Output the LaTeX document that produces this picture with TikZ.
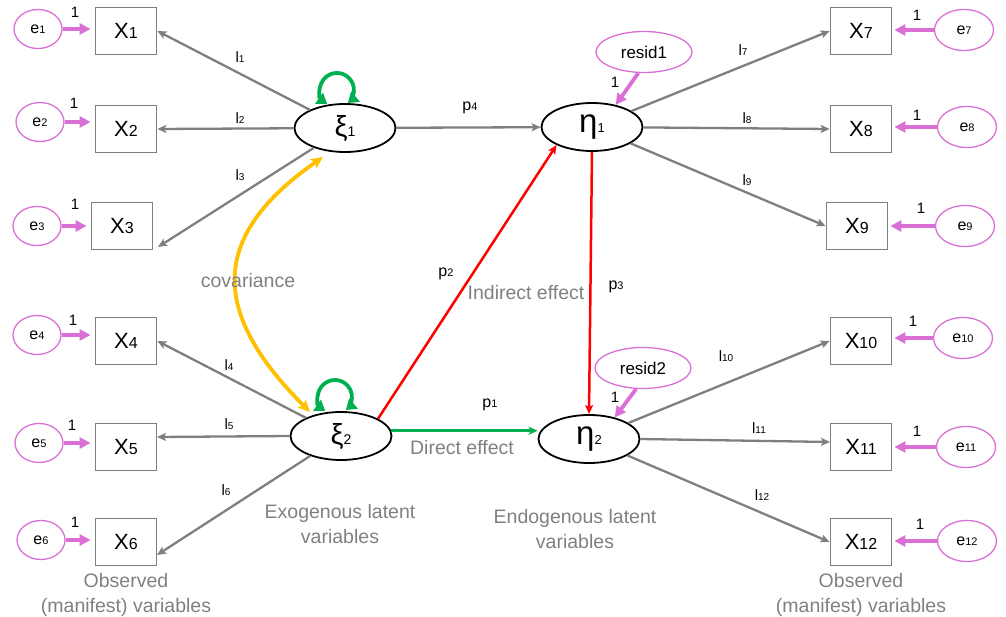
\documentclass[tikz,border=0pt]{standalone}
\usepackage{fontspec}
\setmainfont{Liberation Sans}
\usetikzlibrary{arrows.meta,shapes.geometric}

\definecolor{loadgray}{RGB}{127,127,127}
\definecolor{notegray}{RGB}{128,128,128}
\definecolor{errpink}{RGB}{218,112,214}
\definecolor{pathgreen}{RGB}{0,176,80}
\definecolor{covgold}{RGB}{255,192,0}

\newcommand{\fs}[1]{\fontsize{#1}{#1}\selectfont}

\tikzset{
  obsbox/.style={draw=loadgray,line width=1.8pt,minimum width=61pt,minimum height=47pt,inner sep=0pt},
  errell/.style={ellipse,draw=errpink,line width=1.3pt,minimum width=48pt,minimum height=39pt,inner sep=0pt},
  errellr/.style={errell,minimum width=59pt,minimum height=41pt},
  latell/.style={ellipse,draw=black,line width=1.8pt,minimum width=101pt,minimum height=48pt,inner sep=0pt},
  resell/.style={ellipse,draw=errpink,line width=1.3pt,minimum width=96pt,minimum height=41pt,inner sep=0pt},
  loadarr/.style={draw=loadgray,line width=2.3pt,-{Stealth[length=9pt,width=8pt,inset=2pt]}},
  errarr/.style={draw=errpink,line width=3.8pt,shorten >=4pt,-{Triangle[length=11pt,width=11pt]}},
  redarr/.style={draw=red,line width=2.5pt,-{Stealth[length=9pt,width=8pt,inset=2pt]}},
  greenarr/.style={draw=pathgreen,line width=2.8pt,-{Stealth[length=9pt,width=8pt,inset=2pt]}},
  covarr/.style={draw=covgold,line width=3.8pt,{Stealth[length=12pt,width=11pt,inset=3pt]}-{Stealth[length=12pt,width=11pt,inset=3pt]}},
  varloop/.style={draw=pathgreen,line width=3.8pt,{Triangle[length=10pt,width=13pt]}-{Triangle[length=10pt,width=13pt]}},
  onelbl/.style={inner sep=0pt,font=\fs{15}},
  parlbl/.style={inner sep=0pt},
  notelbl/.style={text=notegray,inner sep=0pt,align=center,font=\fontsize{19.5}{25}\selectfont},
}

\begin{document}
\begin{tikzpicture}[x=1pt,y=1pt,yscale=-1,xscale=1]
\useasboundingbox (0,0) rectangle (1006,617);

%Shape: observed variables
\node[obsbox] (x1) at (126,31) {\fs{22}X\fs{16}1};
\node[obsbox] (x2) at (126,129) {\fs{22}X\fs{16}2};
\node[obsbox] (x3) at (122,226) {\fs{22}X\fs{16}3};
\node[obsbox] (x4) at (126,341) {\fs{22}X\fs{16}4};
\node[obsbox] (x5) at (126,447) {\fs{22}X\fs{16}5};
\node[obsbox] (x6) at (126,542) {\fs{22}X\fs{16}6};
\node[obsbox] (x7) at (861,31) {\fs{22}X\fs{16}7};
\node[obsbox] (x8) at (861,129) {\fs{22}X\fs{16}8};
\node[obsbox] (x9) at (857,226) {\fs{22}X\fs{16}9};
\node[obsbox] (x10) at (861,341) {\fs{22}X\fs{16}10};
\node[obsbox] (x11) at (861,447) {\fs{22}X\fs{16}11};
\node[obsbox] (x12) at (861,542) {\fs{22}X\fs{16}12};

%Shape: error terms
\node[errell] (e1) at (38,29) {\fs{16}e\fs{11}1};
\node[errell] (e2) at (40,122) {\fs{16}e\fs{11}2};
\node[errell] (e3) at (37,226) {\fs{16}e\fs{11}3};
\node[errell] (e4) at (37,335) {\fs{16}e\fs{11}4};
\node[errell] (e5) at (39,443) {\fs{16}e\fs{11}5};
\node[errell] (e6) at (41,540) {\fs{16}e\fs{11}6};
\node[errellr] (e7) at (964,30) {\fs{16}e\fs{11}7};
\node[errellr] (e8) at (967,127) {\fs{16}e\fs{11}8};
\node[errellr] (e9) at (965,226) {\fs{16}e\fs{11}9};
\node[errellr] (e10) at (963,338) {\fs{16}e\fs{11}10};
\node[errellr] (e11) at (966,447) {\fs{16}e\fs{11}11};
\node[errellr] (e12) at (967,541) {\fs{16}e\fs{11}12};

%Shape: latent variables
\node[latell] (xi1) at (345,128) {\fs{29}ξ\fs{14}1};
\node[latell] (xi2) at (341,436) {\fs{29}ξ\fs{14}2};
\node[latell] (eta1) at (592,127) {\fs{33}η\fs{13}1};
\node[latell] (eta2) at (589,439) {\fs{33}η\fs{13}2};
\node[resell] (res1) at (644,52) {\fs{17}resid1};
\node[resell] (res2) at (643,368) {\fs{17}resid2};

\coordinate (x3tip) at (158,247);
\coordinate (x5tip) at (157,437);
\coordinate (x6tip) at (157,555);
\coordinate (x11tip) at (830,442);
\coordinate (covtop) at (323,157);
\coordinate (covbot) at (310,412);
\coordinate (loop1) at (327.2,103.9);
\coordinate (loop2) at (325.2,410.9);

%Shape: error arrows
\draw[errarr] (e1) -- (e1 -| x1.west);
\draw[errarr] (e2) -- (e2 -| x2.west);
\draw[errarr] (e3) -- (e3 -| x3.west);
\draw[errarr] (e4) -- (e4 -| x4.west);
\draw[errarr] (e5) -- (e5 -| x5.west);
\draw[errarr] (e6) -- (e6 -| x6.west);
\draw[errarr,shorten >=2pt] (e7) -- (e7 -| x7.east);
\draw[errarr,shorten >=2pt] (e8) -- (e8 -| x8.east);
\draw[errarr,shorten >=2pt] (e9) -- (e9 -| x9.east);
\draw[errarr,shorten >=2pt] (e10) -- (e10 -| x10.east);
\draw[errarr,shorten >=2pt] (e11) -- (e11 -| x11.east);
\draw[errarr,shorten >=2pt] (e12) -- (e12 -| x12.east);
\draw[errarr,shorten >=0pt] (res1.255) -- (eta1.43);
\draw[errarr,shorten >=0pt] (res2.252) -- (eta2.40);

%Shape: loadings
\draw[loadarr] (xi1) -- (x1.east);
\draw[loadarr] (xi1) -- (x2.east);
\draw[loadarr] (xi1) -- (x3tip);
\draw[loadarr] (xi2) -- (x4.east);
\draw[loadarr] (xi2.west) -- (x5tip);
\draw[loadarr] (xi2) -- (x6tip);
\draw[loadarr] (eta1) -- (x7.west);
\draw[loadarr] (eta1) -- (x8.west);
\draw[loadarr] (eta1) -- (x9.west);
\draw[loadarr] (eta2) -- (x10.west);
\draw[loadarr] (eta2.east) -- (x11tip);
\draw[loadarr] (eta2) -- (x12.west);

%Shape: structural paths
\draw[loadarr] (xi1) -- (eta1);
\draw[redarr] (xi2.25) -- (eta1.207);
\draw[redarr] (eta1.south) -- (eta2.north);
\draw[greenarr] (xi2.6) -- (xi2.6 -| eta2.west);
\draw[covarr] (covbot) .. controls (211,313) and (208,237) .. (covtop);
\draw[varloop] (loop1) arc[start angle=125,end angle=410,radius=17];
\draw[varloop] (loop2) arc[start angle=125,end angle=410,radius=17];

% Text Node
\node[onelbl] (one1) at (75,12) {1};
\node[onelbl] (one2) at (74,103) {1};
\node[onelbl] (one3) at (75,204) {1};
\node[onelbl] (one4) at (73,320) {1};
\node[onelbl] (one5) at (72,425) {1};
\node[onelbl] (one6) at (75,522) {1};
\node[onelbl] (one7) at (917,15) {1};
\node[onelbl] (one8) at (917,115) {1};
\node[onelbl] (one9) at (921,208) {1};
\node[onelbl] (one10) at (913,321) {1};
\node[onelbl] (one11) at (917,431) {1};
\node[onelbl] (one12) at (920,524) {1};
\node[onelbl] (oner1) at (615,82) {1};
\node[onelbl] (oner2) at (615,397) {1};
% Text Node
\node[parlbl] (ld1) at (240,57) {\fs{15}l\fs{10}1};
\node[parlbl] (ld2) at (240,118) {\fs{15}l\fs{10}2};
\node[parlbl] (ld3) at (240,175) {\fs{15}l\fs{10}3};
\node[parlbl] (ld4) at (229,365) {\fs{15}l\fs{10}4};
\node[parlbl] (ld5) at (229,424) {\fs{15}l\fs{10}5};
\node[parlbl] (ld6) at (226,490) {\fs{15}l\fs{10}6};
\node[parlbl] (ld7) at (743,50) {\fs{15}l\fs{10}7};
\node[parlbl] (ld8) at (747,118) {\fs{15}l\fs{10}8};
\node[parlbl] (ld9) at (747,180) {\fs{15}l\fs{10}9};
\node[parlbl] (ld10) at (726,356) {\fs{15}l\fs{10}10};
\node[parlbl] (ld11) at (759,428) {\fs{15}l\fs{10}11};
\node[parlbl] (ld12) at (762,495) {\fs{15}l\fs{10}12};
\node[parlbl] (pl4) at (470,108) {\fs{16}p\fs{11}4};
\node[parlbl] (pl2) at (446,274) {\fs{16}p\fs{11}2};
\node[parlbl] (pl3) at (616,287) {\fs{16}p\fs{11}3};
\node[parlbl] (pl1) at (490,405) {\fs{16}p\fs{11}1};
% Text Node
\node[notelbl] (covtxt) at (248,281) {covariance};
\node[notelbl] (indtxt) at (526,293) {Indirect effect};
\node[notelbl] (dirtxt) at (462,448) {Direct effect};
\node[notelbl] (exotxt) at (340,524.5) {Exogenous latent\\variables};
\node[notelbl] (endotxt) at (575,529.5) {Endogenous latent\\variables};
\node[notelbl] (obsltxt) at (126,595) {Observed\\(manifest) variables};
\node[notelbl] (obsrtxt) at (861,594.5) {Observed\\(manifest) variables};
\end{tikzpicture}
\end{document}
